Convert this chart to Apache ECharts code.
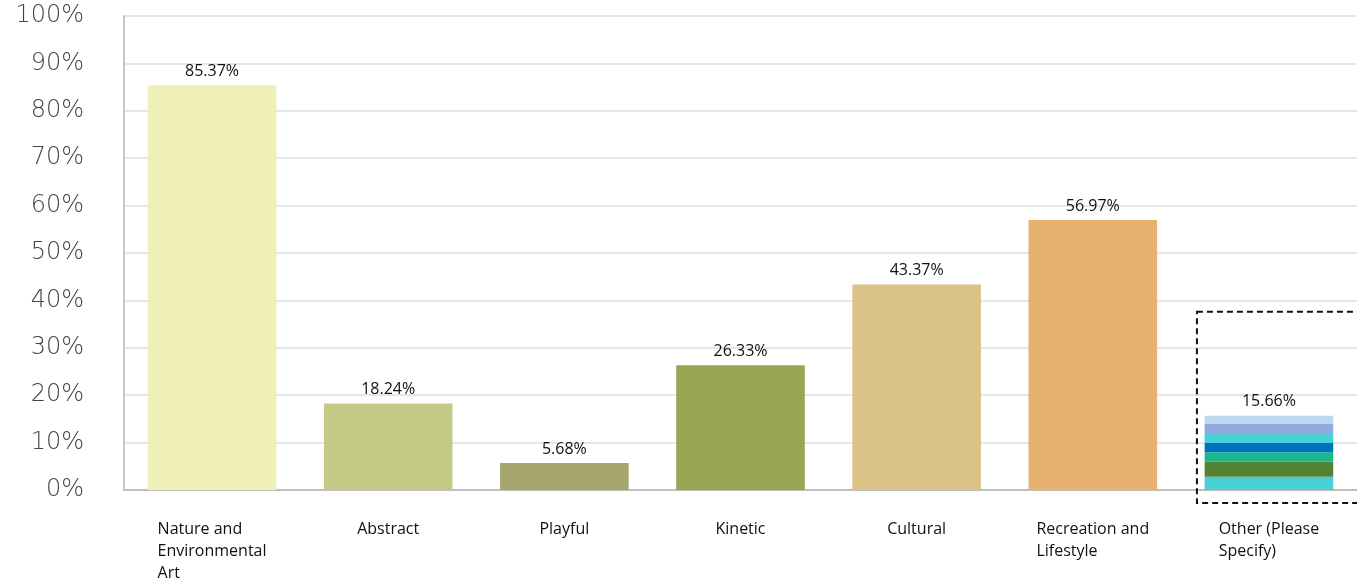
<!DOCTYPE html>
<html>
<head>
<meta charset="utf-8">
<script src="https://cdn.jsdelivr.net/npm/echarts@6/dist/echarts.min.js"></script>
<style>
html,body{margin:0;padding:0;background:#fff;}
#chart{width:1357px;height:584px;}
</style>
</head>
<body>
<div id="chart"></div>
<script>
const categories = ['Nature and\nEnvironmental\nArt', 'Abstract', 'Playful', 'Kinetic', 'Cultural', 'Recreation and\nLifestyle', 'Other (Please\nSpecify)'];
const values = [85.37, 18.24, 5.68, 26.33, 43.37, 56.97, 15.66];
const barColors = ['#EEF0B6', '#C4C985', '#A6A66C', '#98A653', '#DAC288', '#E7B26F', 'rgba(0,0,0,0)'];
// "Other" bar is drawn as coloured bands, bottom to top
const otherSegments = [2.8, 3.2, 1.95, 1.95, 2.1, 2.05, 1.61];
const otherColors = ['#47D0D8', '#548235', '#1AB68E', '#0070C0', '#47D0D8', '#8FAADC', '#BDD7EE'];
const yTicks = [0, 10, 20, 30, 40, 50, 60, 70, 80, 90, 100];

const chart = echarts.init(document.getElementById('chart'));
const lastIdx = categories.length - 1;

const segSeries = otherSegments.map((v, i) => ({
  type: 'bar',
  stack: 'other',
  barWidth: '73%',
  barGap: '-100%',
  silent: true,
  itemStyle: { color: otherColors[i] },
  data: categories.map((c, k) => k === lastIdx ? v : null),
  z: 2
}));

chart.setOption({
  animation: false,
  grid: { left: 124, right: -2, top: 16, bottom: 89.5, containLabel: false },
  xAxis: {
    type: 'category',
    data: categories,
    axisLine: { lineStyle: { color: '#BFBFBF', width: 2 } },
    axisTick: { show: false },
    axisLabel: {
      margin: 28,
      interval: 0,
      color: '#111',
      fontFamily: 'Open Sans',
      fontSize: 16,
      lineHeight: 22,
      formatter: function (val) {
        return val.split('\n').map(s => '{a|' + s + '}').join('\n');
      },
      rich: { a: { align: 'left', fontFamily: 'Open Sans', fontSize: 16, lineHeight: 22, color: '#111' } }
    }
  },
  yAxis: {
    type: 'value',
    min: 0,
    max: 100,
    interval: 10,
    axisLine: { show: true, lineStyle: { color: '#C8C8C8', width: 2 } },
    axisTick: { show: false },
    splitLine: { lineStyle: { color: '#E6E6E6', width: 2 } },
    axisLabel: {
      margin: 40,
      color: '#444444',
      fontFamily: 'DejaVu Sans',
      fontWeight: 200,
      fontSize: 24,
      formatter: function (v) { return yTicks.indexOf(v) >= 0 ? v + '%' : ''; }
    }
  },
  series: [{
    type: 'bar',
    barWidth: '73%',
    data: values.map((v, i) => ({ value: v, itemStyle: { color: barColors[i] } })),
    label: {
      show: true,
      position: 'top',
      distance: 6,
      color: '#111',
      fontFamily: 'Open Sans',
      fontSize: 16,
      formatter: p => p.value.toFixed(2) + '%'
    },
    z: 3
  }].concat(segSeries)
});

// dashed annotation box around the "Other" category
const c = chart.convertToPixel({ xAxisIndex: 0, yAxisIndex: 0 }, [lastIdx, 37.6]);
const base = chart.convertToPixel({ xAxisIndex: 0, yAxisIndex: 0 }, [lastIdx, 0]);
chart.setOption({
  graphic: [{
    type: 'rect',
    shape: { x: c[0] - 72, y: c[1], width: 200, height: base[1] - c[1] + 13 },
    style: { fill: 'none', stroke: '#111', lineWidth: 2, lineDash: [6, 4] },
    z: 10
  }]
});
</script>
</body>
</html>
